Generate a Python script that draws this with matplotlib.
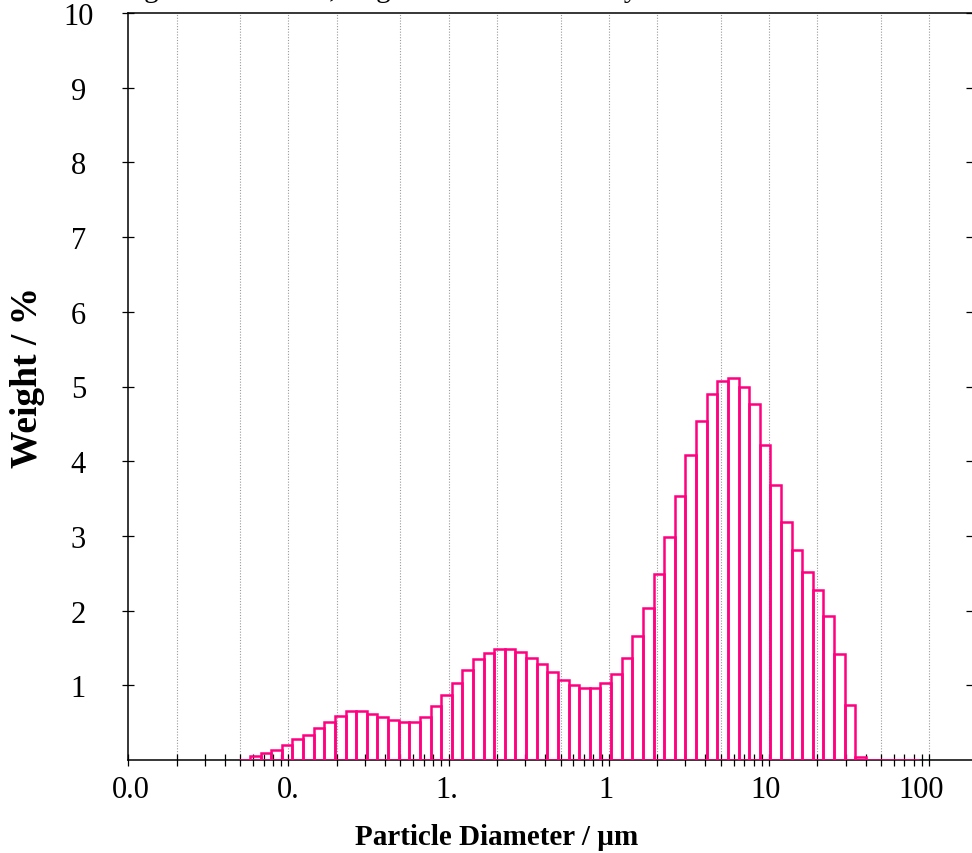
import numpy as np
import matplotlib
matplotlib.use('Agg')
import matplotlib.pyplot as plt
from matplotlib.ticker import FixedLocator, LogLocator, NullFormatter
from matplotlib.transforms import ScaledTranslation

plt.rcParams['font.family'] = ['Liberation Serif', 'DejaVu Serif']

#------------------------------------------------------
# data: size channels (um) and weight fraction per channel (%)
#------------------------------------------------------
bin_edges = [0.004937, 0.005752, 0.006701, 0.007806, 0.009093,
             0.01059, 0.01234, 0.01437, 0.01674, 0.01950,
             0.02272, 0.02647, 0.03083, 0.03592, 0.04183,
             0.04873, 0.05677, 0.06613, 0.07704, 0.08974,
             0.1045, 0.1218, 0.1418, 0.1652, 0.1925,
             0.2242, 0.2612, 0.3043, 0.3545, 0.4129,
             0.4810, 0.5603, 0.6527, 0.7603, 0.8857,
             1.032, 1.202, 1.400, 1.631, 1.900,
             2.214, 2.578, 3.004, 3.499, 4.076,
             4.749, 5.532, 6.444, 7.507, 8.745,
             10.19, 11.87, 13.82, 16.10, 18.76,
             21.85, 25.45, 29.65, 34.54, 40.23,
             46.87, 54.60, 63.60, 74.09, 86.31]

weight_pct = [0.00, 0.05, 0.09, 0.13, 0.20, 0.28, 0.34, 0.43, 0.51, 0.59,
              0.66, 0.66, 0.62, 0.58, 0.53, 0.51, 0.51, 0.58, 0.72, 0.87,
              1.03, 1.20, 1.35, 1.43, 1.48, 1.48, 1.45, 1.37, 1.28, 1.18,
              1.07, 1.01, 0.97, 0.97, 1.03, 1.15, 1.37, 1.66, 2.04, 2.49,
              2.99, 3.54, 4.08, 4.54, 4.90, 5.08, 5.12, 5.00, 4.77, 4.22,
              3.68, 3.19, 2.81, 2.52, 2.27, 1.93, 1.42, 0.73, 0.04, 0.00,
              0.00, 0.00, 0.00, 0.00]

xticks = [0.001, 0.01, 0.1, 1, 10, 100]
xticklabels = ['0.0', '0.', '1.', '1', '10', '100']
yticks = [1, 2, 3, 4, 5, 6, 7, 8, 9, 10]
grid_lines = [0.002, 0.005, 0.01, 0.02, 0.05, 0.1, 0.2, 0.5,
              1, 2, 5, 10, 20, 50, 100]

title = 'Weight Distribution, Log Particle Diameter by Size'

#------------------------------------------------------
# plot
#------------------------------------------------------
edges = np.array(bin_edges)
left = edges[:-1]
width = edges[1:] - edges[:-1]

fig = plt.figure(figsize=(9.72, 8.54), dpi=100)
ax = fig.add_axes([128.3/972, 1-761/854, 1-128.3/972, (761-14)/854])

for g in grid_lines:
    ax.axvline(g, color='#9a9a9a', linestyle=(0, (1, 1.5)), linewidth=0.8, zorder=1)

ax.bar(left, weight_pct, width=width, align='edge', facecolor='none',
       edgecolor='#ff0080', linewidth=1.8, zorder=3)

ax.set_xscale('log')
ax.set_xlim(0.001, 184.8)
ax.set_ylim(0, 10)

ax.xaxis.set_major_locator(FixedLocator(xticks))
ax.set_xticklabels(xticklabels)
ax.xaxis.set_minor_locator(LogLocator(base=10, subs=np.arange(2, 10)))
ax.xaxis.set_minor_formatter(NullFormatter())
ax.set_yticks(yticks)
ax.set_yticklabels([str(v) for v in yticks], ha='center')

ax.tick_params(axis='both', which='both', direction='inout', length=8, width=0.9,
               colors='black', labelsize=22)
ax.tick_params(axis='y', right=True, pad=32)
ax.tick_params(axis='x', pad=7)

# the x labels sit a little left of their ticks
label_shift_px = [3, 0, -2, -3, -4, -8]
for lbl, dx in zip(ax.get_xticklabels(), label_shift_px):
    lbl.set_transform(lbl.get_transform() + ScaledTranslation(dx/100, 0, fig.dpi_scale_trans))

ax.spines['right'].set_visible(False)
for s in ['left', 'top', 'bottom']:
    ax.spines[s].set_linewidth(1.1)

ax.set_xlabel('Particle Diameter / µm', fontsize=21, fontweight='bold', va='center')
ax.xaxis.set_label_coords(0.436, -0.103)
ax.set_ylabel('Weight / %', fontsize=27, fontweight='bold', va='center')
ax.yaxis.set_label_coords(-0.120, 0.514)

fig.text(98/972, 1 + 3/854, title, ha='left', va='baseline', fontsize=21)

fig.savefig('out.png', dpi=100)
